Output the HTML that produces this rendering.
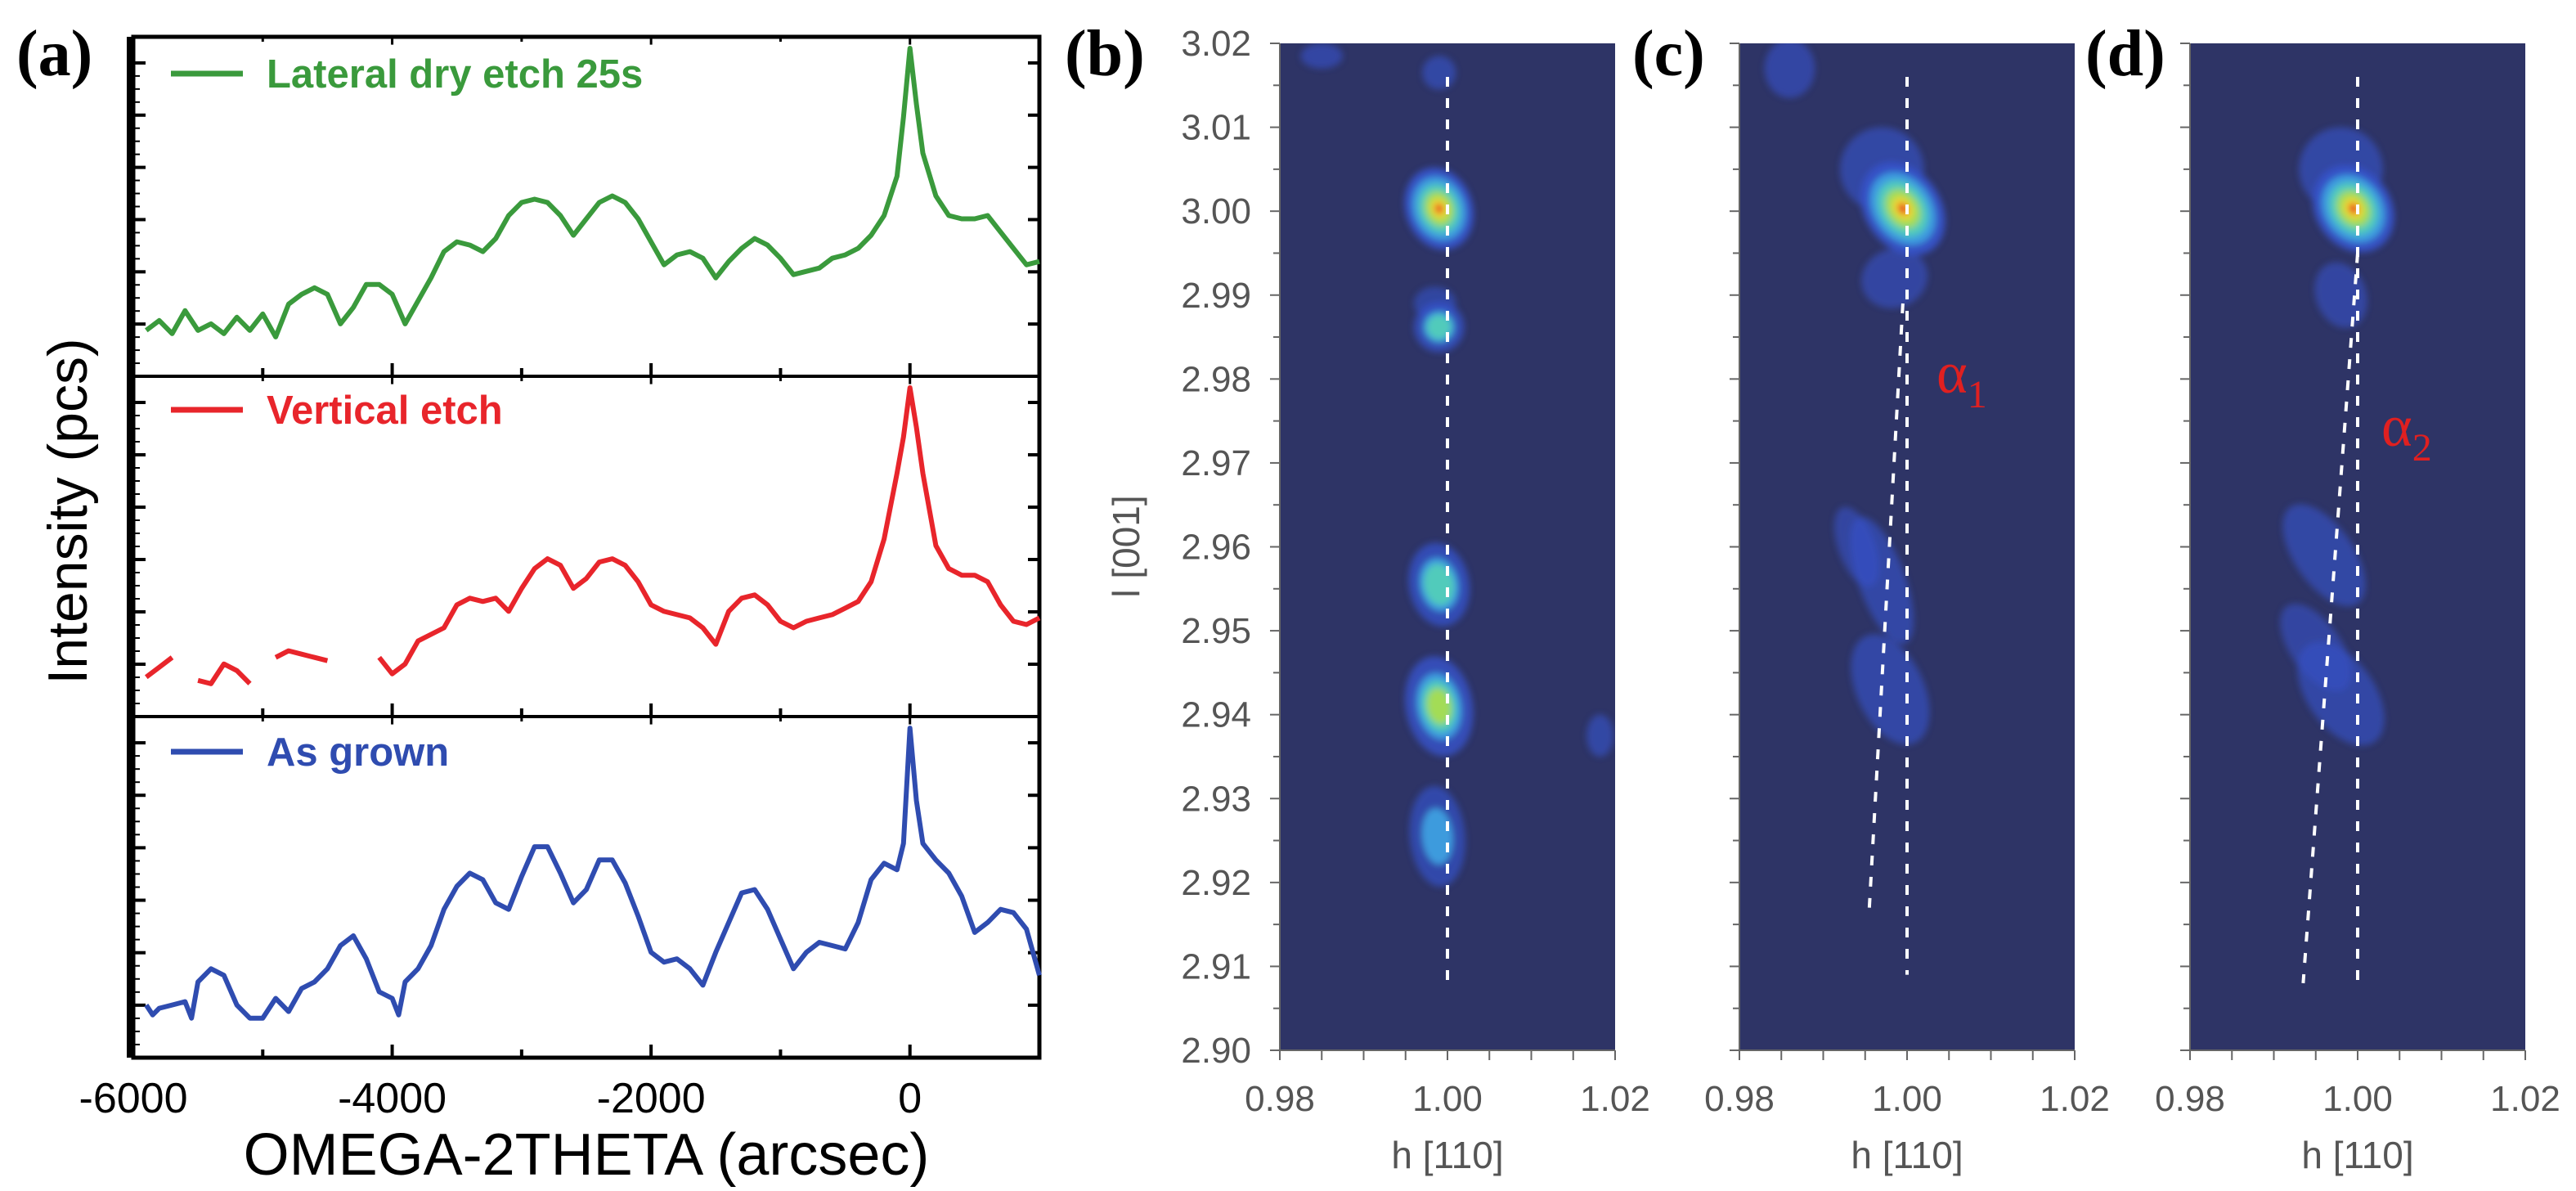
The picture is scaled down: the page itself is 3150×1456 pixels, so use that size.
<!DOCTYPE html>
<html><head><meta charset="utf-8"><style>
html,body{margin:0;padding:0;background:#fff;}
svg{display:block;}
</style></head><body>
<svg id="fig" width="3150" height="1456" viewBox="0 0 3150 1456" xmlns="http://www.w3.org/2000/svg">
<defs>
<filter id="blur" x="-50%" y="-50%" width="200%" height="200%"><feGaussianBlur stdDeviation="4"/></filter>
</defs>
<g id="pa"></g>
<g id="pmaps"></g>
<text x="20" y="92" font-family="Liberation Serif" font-weight="bold" font-size="80">(a)</text>
<text x="1302" y="92" font-family="Liberation Serif" font-weight="bold" font-size="80">(b)</text>
<text x="1996" y="92" font-family="Liberation Serif" font-weight="bold" font-size="80">(c)</text>
<text x="2550" y="92" font-family="Liberation Serif" font-weight="bold" font-size="80">(d)</text>
</svg>
<script>
const NS='http://www.w3.org/2000/svg';
function mk(tag,attrs,parent){const e=document.createElementNS(NS,tag);for(const k in attrs)e.setAttribute(k,attrs[k]);parent.appendChild(e);return e;}

// ---------- Panel (a) data ----------
const xTicksA=[-6000,-4000,-2000,0];
const xA=[-5900,-5800,-5700,-5600,-5500,-5400,-5300,-5200,-5100,-5000,-4900,-4800,-4700,-4600,-4500,-4400,-4300,-4200,-4100,-4000,-3900,-3800,-3700,-3600,-3500,-3400,-3300,-3200,-3100,-3000,-2900,-2800,-2700,-2600,-2500,-2400,-2300,-2200,-2100,-2000,-1900,-1800,-1700,-1600,-1500,-1400,-1300,-1200,-1100,-1000,-900,-800,-700,-600,-500,-400,-300,-200,-100,-50,0,50,100,200,300,400,500,600,700,800,900,1000];
const greenY=[12,15,11,18,12,14,11,16,12,17,10,20,23,25,23,14,19,26,26,23,14,21,28,36,39,38,36,40,47,51,52,51,47,41,46,51,53,51,46,39,32,35,36,34,28,33,37,40,38,34,29,30,31,34,35,37,41,47,59,77,98,81,66,53,47,46,46,47,42,37,32,33];
const redY=[10,13,16,null,9,8,14,12,8,null,16,18,17,16,15,null,null,null,16,11,14,21,23,25,32,34,33,34,30,37,43,46,44,37,40,45,46,44,39,32,30,29,28,25,20,30,34,35,32,27,25,27,28,29,31,33,39,52,72,83,98,86,72,50,43,41,41,39,32,27,26,28];
const xB=[-5900,-5850,-5800,-5700,-5600,-5550,-5500,-5400,-5300,-5200,-5100,-5000,-4900,-4800,-4700,-4600,-4500,-4400,-4300,-4200,-4100,-4000,-3950,-3900,-3800,-3700,-3600,-3500,-3400,-3300,-3200,-3100,-3000,-2900,-2800,-2700,-2600,-2500,-2400,-2300,-2200,-2100,-2000,-1900,-1800,-1700,-1600,-1500,-1400,-1300,-1200,-1100,-1000,-900,-800,-700,-600,-500,-400,-300,-200,-100,-50,0,50,100,200,300,400,500,600,700,800,900,1000];
const blueVals=[14,11,13,14,15,10,21,25,23,14,10,10,16,12,19,21,25,32,35,28,18,16,11,21,25,32,43,50,54,52,45,43,53,62,62,54,45,49,58,58,51,41,30,27,28,25,20,30,39,48,49,43,34,25,30,33,32,31,39,52,57,55,63,98,76,63,58,54,47,36,39,43,42,37,23];

const A={x0:163,x1:1271,xmin:-6000,xmax:1000};
const bands=[{top:45,bot:460},{top:460,bot:876},{top:876,bot:1293}];
function ax(v){return A.x0+(v-A.xmin)/(A.xmax-A.xmin)*(A.x1-A.x0);}
function ay(v,b){return b.bot-8-(v/100)*(b.bot-b.top-14);}
const pa=document.getElementById('pa');

function drawSeries(xs,ys,b,color,name){
  let d='';let pen=false;
  for(let i=0;i<xs.length;i++){
    if(ys[i]===null||ys[i]===undefined){pen=false;continue;}
    d+=(pen?'L':'M')+ax(xs[i]).toFixed(1)+' '+ay(ys[i],b).toFixed(1)+' ';pen=true;
  }
  const p=mk('path',{d:d,fill:'none',stroke:color,'stroke-width':6,'stroke-linejoin':'round'},pa);
  
  
}
bands.forEach((b,bi)=>{
  for(let k=0;k<7;k++){
    const y=b.top+(b.bot-b.top)*(k+0.5)/6.5;
    mk('line',{x1:163,x2:178,y1:y,y2:y,stroke:'#000','stroke-width':4},pa);
    mk('line',{x1:1257,x2:1271,y1:y,y2:y,stroke:'#000','stroke-width':4},pa);
    for(let m=1;m<4;m++){const ym=y+m*(b.bot-b.top)/6.5/4; if(ym<b.bot-4){mk('line',{x1:163,x2:171,y1:ym,y2:ym,stroke:'#000','stroke-width':2},pa);}}
  }
  for(let v=-5000;v<=1000;v+=1000){
    const tl=(v%2000===0)?16:10;
    mk('line',{x1:ax(v),x2:ax(v),y1:b.bot,y2:b.bot-tl,stroke:'#000','stroke-width':4},pa);
    mk('line',{x1:ax(v),x2:ax(v),y1:b.top,y2:b.top+tl*0.6,stroke:'#000','stroke-width':3},pa);
  }
});
const fr=mk('rect',{x:163,y:45,width:1108,height:1248,fill:'none',stroke:'#000','stroke-width':5},pa);

mk('line',{x1:160,x2:160,y1:45,y2:1293,stroke:'#000','stroke-width':10},pa);
mk('line',{x1:163,x2:1271,y1:460,y2:460,stroke:'#000','stroke-width':4},pa);
mk('line',{x1:163,x2:1271,y1:876,y2:876,stroke:'#000','stroke-width':4},pa);

drawSeries(xA,greenY,bands[0],'#3a9a3c','series-lateral-dry-etch');
drawSeries(xA,redY,bands[1],'#e8252b','series-vertical-etch');
drawSeries(xB,blueVals,bands[2],'#2f4cb0','series-as-grown');

xTicksA.forEach(v=>{
  const t=mk('text',{x:ax(v),y:1360,'text-anchor':'middle','font-family':'Liberation Sans','font-size':52},pa);
  t.textContent=v; 
});
let t=mk('text',{x:717,y:1436,'text-anchor':'middle','font-family':'Liberation Sans','font-size':72},pa);
t.textContent='OMEGA-2THETA (arcsec)';
t=mk('text',{x:0,y:0,'text-anchor':'middle','font-family':'Liberation Sans','font-size':68,transform:'translate(106,625) rotate(-90)'},pa);
t.textContent='Intensity (pcs)';

const legends=[['Lateral dry etch 25s','#3a9a3c',90,'legend-lateral'],['Vertical etch','#e8252b',501,'legend-vertical'],['As grown','#2f4cb0',919,'legend-as-grown']];
legends.forEach(l=>{
  const g=mk('g',{},pa);
  
  mk('line',{x1:209,x2:297,y1:l[2],y2:l[2],stroke:l[1],'stroke-width':7},g);
  const tt=mk('text',{x:326,y:l[2]+17,'font-family':'Liberation Sans','font-weight':'bold','font-size':49,fill:l[1]},g);
  tt.textContent=l[0];
});

// ---------- RSM panels ----------
const yTicks=[3.02,3.01,3.00,2.99,2.98,2.97,2.96,2.95,2.94,2.93,2.92,2.91,2.90];
const yTickLabels=['3.02','3.01','3.00','2.99','2.98','2.97','2.96','2.95','2.94','2.93','2.92','2.91','2.90'];
const xTicksH=[0.98,1.00,1.02];
const xTickHLabels=['0.98','1.00','1.02'];
const spotsB_h=[0.9990,0.9990,0.9990,0.9990,0.9988,0.9990,0.9850,1.0182,0.9985];
const spotsB_l=[3.0003,2.9862,2.9555,2.9410,2.9255,3.0165,3.0185,2.9375,2.9890];
const spotsB_rx=[0.0040,0.0030,0.0036,0.0040,0.0033,0.0020,0.0025,0.0016,0.0025];
const spotsB_ry=[0.0050,0.0030,0.0050,0.0060,0.0060,0.0020,0.0015,0.0025,0.0020];
const spotsB_pk=[1.0,0.62,0.66,0.72,0.45,0.3,0.28,0.3,0.2];
const spotsC_h=[0.9995,0.9970,0.9970,0.9980,0.9940,0.9860,0.9985];
const spotsC_l=[3.0003,3.0050,2.9560,2.9430,2.9600,3.0170,2.9920];
const spotsC_rx=[0.0045,0.0050,0.0028,0.0040,0.0022,0.0030,0.0040];
const spotsC_ry=[0.0060,0.0050,0.0080,0.0070,0.0050,0.0035,0.0035];
const spotsC_pk=[1.0,0.3,0.32,0.33,0.22,0.28,0.22];
const spotsD_h=[0.9995,0.9980,0.9960,0.9980,0.9980,0.9950];
const spotsD_l=[3.0003,3.0050,2.9590,2.9425,2.9900,2.9480];
const spotsD_rx=[0.0045,0.0050,0.0035,0.0040,0.0030,0.0030];
const spotsD_ry=[0.0055,0.0050,0.0070,0.0070,0.0040,0.0060];
const spotsD_pk=[1.0,0.3,0.3,0.33,0.22,0.22];
const tiltC=[-35,-30,-20,-25,-20,0,-20];
const tiltD=[-35,-30,-35,-35,-20,-35];
const tiltB=[-20,-10,-10,-10,-5,0,0,0,0];

const panels=[
 {name:'b',left:1565,h:spotsB_h,l:spotsB_l,rx:spotsB_rx,ry:spotsB_ry,pk:spotsB_pk,tilt:tiltB,dash:[[1.00,3.016,1.00,2.908]],labels:true},
 {name:'c',left:2127,h:spotsC_h,l:spotsC_l,rx:spotsC_rx,ry:spotsC_ry,pk:spotsC_pk,tilt:tiltC,dash:[[1.00,3.016,1.00,2.909],[0.9995,2.989,0.9955,2.917]],labels:false,alpha:['1',2368,480]},
 {name:'d',left:2678,h:spotsD_h,l:spotsD_l,rx:spotsD_rx,ry:spotsD_ry,pk:spotsD_pk,tilt:tiltD,dash:[[1.00,3.016,1.00,2.908],[1.00,2.995,0.9935,2.908]],labels:false,alpha:['2',2912,545]}
];
const PW=410,PT=53,PB=1284;
const pm=document.getElementById('pmaps');
const levels=[[1.0,'#3552c8',0],[0.78,'#3f9fe0',0.4],[0.6,'#52cdb8',0.55],[0.42,'#a8dc50',0.7],[0.25,'#f0d830',0.9],[0.12,'#e83020',0.95]];
panels.forEach(P=>{
  const hx=v=>P.left+(v-0.98)/0.04*PW;
  const ly=v=>PT+(3.02-v)/0.12*(PB-PT);
  const g=mk('g',{},pm);
  
  
  const clipId='clip'+P.name;
  const cp=mk('clipPath',{id:clipId},g);mk('rect',{x:P.left,y:PT,width:PW,height:PB-PT},cp);
  const bg=mk('rect',{x:P.left,y:PT,width:PW,height:PB-PT,fill:'#2e3466'},g);
  
  const sg=mk('g',{'clip-path':'url(#'+clipId+')'},g);
  const bl=mk('g',{filter:'url(#blur)'},sg);
  const order=P.h.map((_,i)=>i).sort((a,b)=>P.pk[a]-P.pk[b]);
  order.forEach(i=>{
    const cx=hx(P.h[i]),cy=ly(P.l[i]);
    const rx=P.rx[i]/0.04*PW, ry=P.ry[i]/0.12*(PB-PT);
    levels.forEach(L=>{
      if(P.pk[i]<L[2]) return;
      const sc=L[0]*(L[2]>0?(0.5+0.5*P.pk[i]):1);
      const e=mk('ellipse',{cx:cx,cy:cy,rx:rx*sc,ry:ry*sc,fill:L[1],'fill-opacity':L[2]===0?(0.5+0.45*P.pk[i]):0.95,transform:'rotate('+P.tilt[i]+' '+cx+' '+cy+')'},bl);
      
      
    });
  });
  P.dash.forEach(d=>{
    const ln=mk('line',{x1:hx(d[0]),y1:ly(d[1]),x2:hx(d[2]),y2:ly(d[3]),stroke:'#fff','stroke-width':4,'stroke-dasharray':'12 14'},g);
    
    
  });
  mk('line',{x1:P.left,x2:P.left,y1:PT,y2:PB,stroke:'#666','stroke-width':2},g);
  mk('line',{x1:P.left,x2:P.left+PW,y1:PB,y2:PB,stroke:'#666','stroke-width':2},g);
  for(let k=0;k<=24;k++){
    const y=PT+k*(PB-PT)/24;
    mk('line',{x1:P.left-(k%2===0?12:8),x2:P.left,y1:y,y2:y,stroke:'#666','stroke-width':2},g);
  }
  for(let k=0;k<=8;k++){
    const x=P.left+k*PW/8;
    mk('line',{x1:x,x2:x,y1:PB,y2:PB+12,stroke:'#666','stroke-width':2},g);
  }
  xTicksH.forEach((v,i)=>{
    const tx=mk('text',{x:hx(v),y:1358,'text-anchor':'middle','font-family':'Liberation Sans','font-size':44,fill:'#555'},g);
    tx.textContent=xTickHLabels[i];
  });
  const xt=mk('text',{x:hx(1.0),y:1428,'text-anchor':'middle','font-family':'Liberation Sans','font-size':46,fill:'#555'},g);
  xt.textContent='h [110]';
  if(P.labels){
    yTicks.forEach((v,i)=>{
      const ty=mk('text',{x:1530,y:ly(v)+15,'text-anchor':'end','font-family':'Liberation Sans','font-size':44,fill:'#555'},g);
      ty.textContent=yTickLabels[i];
    });
    const yt=mk('text',{x:0,y:0,'text-anchor':'middle','font-family':'Liberation Sans','font-size':46,fill:'#555',transform:'translate(1393,668) rotate(-90)'},g);
    yt.textContent='l [001]';
  }
  if(P.alpha){
    const at=mk('text',{x:P.alpha[1],y:P.alpha[2],'font-family':'Liberation Serif','font-size':72,fill:'#e02020'},g);
    at.textContent='α';
    const sub=mk('tspan',{dy:18,'font-size':48},at);sub.textContent=P.alpha[0];
    
  }
});
</script>
</body></html>
